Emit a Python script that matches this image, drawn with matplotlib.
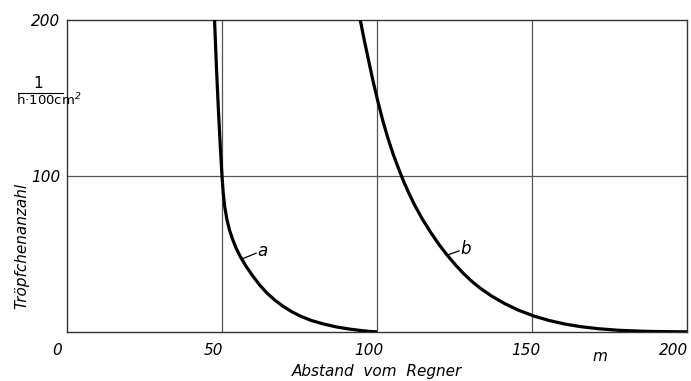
import matplotlib
matplotlib.use("Agg")
import matplotlib.pyplot as plt
import matplotlib.transforms as mtransforms

plt.rcParams['font.family'] = ['Liberation Sans Narrow', 'DejaVu Sans']
plt.rcParams['font.style'] = 'italic'

# curve a
xa = [47.6, 48.2, 48.85, 49.45, 50.0, 50.4, 50.9, 51.6, 52.4, 53.4, 54.6, 56.0, 57.8,
      59.9, 62.2, 64.5, 67.0, 69.7, 72.5, 75.5, 78.8, 82.6, 87.0, 91.4, 95.0, 98.0, 100.0]
ya = [200, 170, 142, 119, 100, 89, 80, 72, 65.5, 59.5, 53.5, 48, 42,
      36, 30, 25, 20.5, 16.5, 13, 10, 7.4, 5.2, 3.2, 1.8, 0.9, 0.3, 0.1]

# curve b
xb = [94.6, 95.9, 97.3, 98.7, 100.2, 101.8, 103.4, 105.2, 107.1, 108.7, 110.4, 112.1,
      114.6, 117.3, 120.0, 122.7, 125.4, 128.1, 130.8, 133.5, 137.0, 141.1, 145.5,
      150.8, 155.5, 160.6, 165.8, 171.4, 178.0, 185.5, 192.0, 200.0]
yb = [200, 187, 174, 161, 148.5, 136, 125, 114, 104, 96, 88.5, 81.5,
      72.5, 63.9, 56.1, 49.1, 42.8, 37.1, 32.1, 27.8, 23, 18.3, 14.1,
      10.1, 7.4, 5.1, 3.4, 2.1, 1.1, 0.5, 0.25, 0.1]

xticks = [0, 50, 100, 150, 200]
yticks = [100, 200]

fig = plt.figure(figsize=(6.91, 3.81), dpi=100)
ax = fig.add_axes([67/691, 49/381, 620/691, 312/381])

ax.set_xlim(0, 200)
ax.set_ylim(0, 200)

for x in [50, 100, 150]:
    ax.axvline(x, color='#555555', lw=0.9, zorder=1)
ax.axhline(100, color='#555555', lw=0.9, zorder=1)

ax.plot(xa, ya, color='black', lw=2.3, solid_capstyle='butt', solid_joinstyle='round', zorder=3)
ax.plot(xb, yb, color='black', lw=2.3, solid_capstyle='butt', solid_joinstyle='round', zorder=3)

# curve labels with leader lines
ax.plot([56.4, 61.0], [46.8, 50.5], color='black', lw=0.9)
ax.text(61.5, 52, 'a', fontsize=12, va='center', ha='left')
ax.plot([122.9, 126.5], [49.5, 52.0], color='black', lw=0.9)
ax.text(126.8, 53.5, 'b', fontsize=12, va='center', ha='left')

for s in ax.spines.values():
    s.set_color('#333333')
    s.set_linewidth(1.0)

ax.set_xticks(xticks)
ax.set_xticklabels([str(v) for v in xticks], fontsize=11)
ax.set_yticks(yticks)
ax.set_yticklabels([str(v) for v in yticks], fontsize=11)
ax.tick_params(length=0, pad=5)
ax.tick_params(axis='x', pad=8)
for lab, dx in zip(ax.get_xticklabels(), [-10, -9, -8, -6, -13]):
    shift = mtransforms.ScaledTranslation(dx/100, 0, fig.dpi_scale_trans)
    lab.set_transform(lab.get_transform() + shift)

ax.text(172, -0.055, 'm', transform=ax.get_xaxis_transform(), fontsize=11,
        ha='center', va='top')
ax.set_xlabel('Abstand  vom  Regner', fontsize=11, labelpad=4)
fig.text(22/691, 1 - 246/381, 'Tröpfchenanzahl', rotation=90, fontsize=11,
         ha='center', va='center')

# unit as a fraction
fig.text(38/691, 1 - 83/381, '1', fontsize=11, ha='center', va='center', style='normal')
fig.lines.append(plt.Line2D([18/691, 63/691], [1 - 93/381, 1 - 93/381],
                            transform=fig.transFigure, color='black', lw=0.8))
fig.text(49/691, 1 - 100/381, 'h·100cm$^2$', fontsize=9.5, ha='center', va='center',
         style='normal')

fig.savefig('out.png', dpi=100)
